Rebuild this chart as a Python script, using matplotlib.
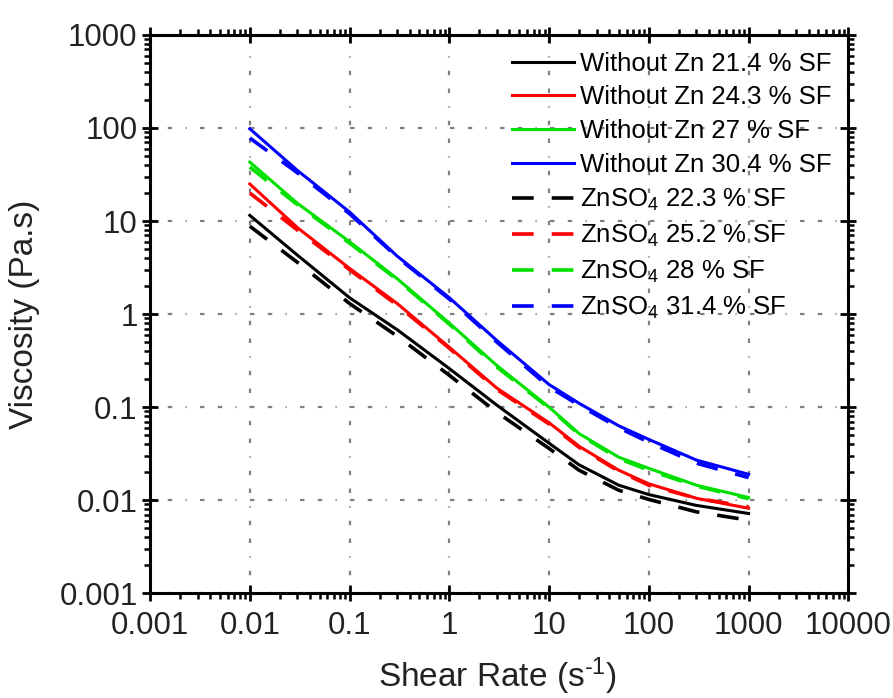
import matplotlib
matplotlib.use('Agg')
import matplotlib.pyplot as plt
from matplotlib.ticker import LogLocator, FixedFormatter, FixedLocator, NullFormatter

plt.rcParams['font.family'] = ['Liberation Sans', 'DejaVu Sans']
plt.rcParams['mathtext.fontset'] = 'custom'
plt.rcParams['mathtext.rm'] = 'Liberation Sans'
plt.rcParams['mathtext.it'] = 'Liberation Sans:italic'

#**************************************************#
# data

shear_rate = [0.01, 0.03, 0.1, 0.3, 1, 3, 10, 20, 50, 100, 300, 1000]

# without Zn (solid)
visc_214 = [11.5, 4.3, 1.5, 0.68, 0.26, 0.105, 0.041, 0.024, 0.0145, 0.0115, 0.0088, 0.0072]
visc_243 = [25, 8.5, 3.1, 1.3, 0.44, 0.16, 0.068, 0.038, 0.021, 0.015, 0.0105, 0.0082]
visc_270 = [43, 15.5, 6.0, 2.4, 0.80, 0.28, 0.10, 0.052, 0.029, 0.022, 0.0145, 0.0107]
visc_304 = [98, 35, 12.5, 4.2, 1.5, 0.52, 0.175, 0.11, 0.063, 0.045, 0.027, 0.019]

# ZnSO4 (dashed)
visc_223 = [8.8, 3.6, 1.3, 0.58, 0.22, 0.088, 0.036, 0.021, 0.0128, 0.0102, 0.0075, 0.0061]
visc_252 = [20, 8.0, 3.0, 1.25, 0.43, 0.155, 0.066, 0.037, 0.0205, 0.0145, 0.0105, 0.0085]
visc_280 = [38, 15, 5.8, 2.35, 0.78, 0.27, 0.098, 0.051, 0.028, 0.021, 0.0142, 0.0104]
visc_314 = [78, 33, 12, 4.1, 1.45, 0.5, 0.165, 0.105, 0.06, 0.042, 0.025, 0.0175]

solid_series = [visc_214, visc_243, visc_270, visc_304]
solid_labels = ['Without Zn 21.4 % SF', 'Without Zn 24.3 % SF',
                'Without Zn 27 % SF', 'Without Zn 30.4 % SF']
dash_series = [visc_223, visc_252, visc_280, visc_314]
dash_labels = ['ZnSO$_4$ 22.3 % SF', 'ZnSO$_4$ 25.2 % SF',
               'ZnSO$_4$ 28 % SF', 'ZnSO$_4$ 31.4 % SF']
colors = ['#000000', '#ff0000', '#00e000', '#0000ff']

x_decades = [0.001, 0.01, 0.1, 1, 10, 100, 1000, 10000]
x_ticklabels = ['0.001', '0.01', '0.1', '1', '10', '100', '1000', '10000']
y_decades = [0.001, 0.01, 0.1, 1, 10, 100, 1000]
y_ticklabels = ['0.001', '0.01', '0.1', '1', '10', '100', '1000']

#**************************************************#
# create plot

fig = plt.figure(figsize=(8.93, 6.98), dpi=100)
ax = fig.add_axes([0.168, 0.150, 0.782, 0.800])

for vals, lab, c in zip(solid_series, solid_labels, colors):
    ax.plot(shear_rate, vals, color=c, lw=2.2, label=lab)
for vals, lab, c in zip(dash_series, dash_labels, colors):
    ax.plot(shear_rate, vals, color=c, lw=2.6, ls=(0, (6, 5)), label=lab)

ax.set_xscale('log')
ax.set_yscale('log')
ax.set_xlim(0.001, 10000)
ax.set_ylim(0.001, 1000)

ax.xaxis.set_major_locator(FixedLocator(x_decades))
ax.xaxis.set_major_formatter(FixedFormatter(x_ticklabels))
ax.yaxis.set_major_locator(FixedLocator(y_decades))
ax.yaxis.set_major_formatter(FixedFormatter(y_ticklabels))
ax.xaxis.set_minor_locator(LogLocator(base=10, subs=range(2, 10), numticks=20))
ax.yaxis.set_minor_locator(LogLocator(base=10, subs=range(2, 10), numticks=20))
ax.xaxis.set_minor_formatter(NullFormatter())
ax.yaxis.set_minor_formatter(NullFormatter())

ax.tick_params(which='major', direction='inout', length=12, width=2,
               top=True, right=True, labelsize=22.5, pad=3,
               labelcolor='#222222')
ax.tick_params(axis='x', which='major', pad=7)
ax.tick_params(which='minor', direction='out', length=4, width=1.8,
               top=True, right=True)
for sp in ax.spines.values():
    sp.set_linewidth(2.2)

ax.grid(True, which='major', color='#808080', ls=(0, (2, 6, 2, 6, 0.5, 6)), lw=1.6)

ax.set_xlabel(r'Shear Rate (s$^{\text{-1}}$)', fontsize=24, color='#222222')
ax.set_ylabel('Viscosity (Pa.s)', fontsize=24, color='#222222')
ax.xaxis.set_label_coords(0.497, -0.112)
ax.yaxis.set_label_coords(-0.158, 0.5)

ax.legend(loc='upper right', frameon=False, fontsize=18.5, handlelength=2.4,
          handletextpad=0.25, labelspacing=0.38, borderaxespad=0.2,
          borderpad=0.45)

fig.savefig('out.png', dpi=100)
